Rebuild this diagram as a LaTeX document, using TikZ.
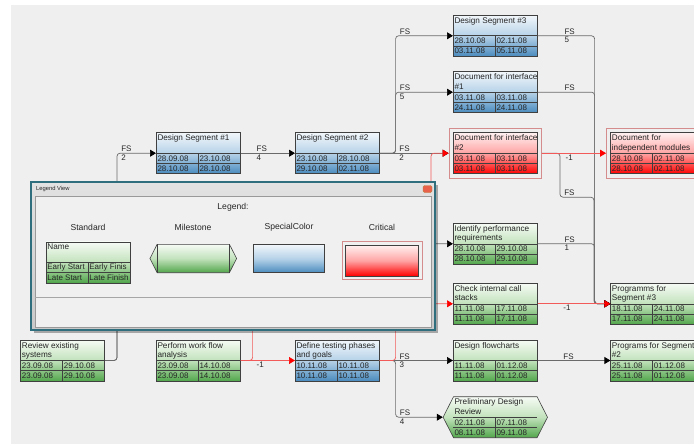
\documentclass[tikz,border=0pt]{standalone}
\usepackage{fontspec}
\setmainfont{Liberation Sans}
\usetikzlibrary{shapes,shapes.symbols,arrows.meta,fit}

\definecolor{bgcol}{HTML}{EFEFEF}
\definecolor{ink}{HTML}{262626}
\definecolor{edge}{HTML}{404040}
\definecolor{link}{HTML}{6A6A6A}
\definecolor{critlink}{HTML}{F25A5A}
\definecolor{gtop}{HTML}{F6FBF5}
\definecolor{gmid}{HTML}{C2E2BC}
\definecolor{gbot}{HTML}{52A64C}
\definecolor{btop}{HTML}{F2F7FB}
\definecolor{bmid}{HTML}{B6D2E8}
\definecolor{bbot}{HTML}{4A8BBE}
\definecolor{rtop}{HTML}{FFF0F0}
\definecolor{rmid}{HTML}{FFA4A4}
\definecolor{rbot}{HTML}{FF0000}
\definecolor{critedge}{HTML}{D48C8C}
\definecolor{winedge}{HTML}{2F6E7C}
\definecolor{wintop}{HTML}{E2E2E2}
\definecolor{winbot}{HTML}{C9C9C9}
\definecolor{panelcol}{HTML}{F0F0F0}

\tikzstyle{block} = [draw=edge, line width=0.6pt, rectangle, inner sep=0pt,
    minimum width=84pt, minimum height=41pt]
\tikzstyle{std} = [top color=gtop, bottom color=gbot, middle color=gmid]
\tikzstyle{special} = [top color=btop, bottom color=bbot, middle color=bmid]
\tikzstyle{crit} = [top color=rtop, bottom color=rbot, middle color=rmid]
\tikzstyle{mile} = [std, signal, signal to=east and west, signal pointer angle=126,
    minimum width=104.4pt]
\tikzstyle{critframe} = [draw=critedge, line width=0.7pt, inner sep=4pt]
\tikzstyle{gridline} = [draw=edge, line width=0.6pt]
\tikzstyle{boxtitle} = [anchor=north west, inner sep=1pt, align=left, text=ink,
    font=\fontsize{8.2}{9.3}\selectfont]
\tikzstyle{boxdate} = [anchor=west, inner sep=1pt, text=ink, font=\fontsize{8}{9}\selectfont]
\tikzstyle{conn} = [draw=link, line width=0.7pt, rounded corners=3pt,
    -{Triangle[length=6pt,width=7pt,color=black]}]
\tikzstyle{critconn} = [conn, draw=critlink, -{Triangle[length=6pt,width=7pt,color=red]}]
\tikzstyle{fslab} = [anchor=south west, inner sep=1pt, text=ink, font=\fontsize{8}{9}\selectfont]
\tikzstyle{numlab} = [anchor=north west, inner sep=1pt, text=ink, font=\fontsize{8}{9}\selectfont]
\tikzstyle{win} = [rectangle, draw=winedge, line width=1.2pt, top color=wintop, bottom color=winbot]
\tikzstyle{panel} = [rectangle, draw=black!40, line width=0.6pt, fill=panelcol]
\tikzstyle{legtext} = [inner sep=0pt, text=ink, font=\fontsize{8.6}{10}\selectfont]

\newcommand{\pertbox}[9]{%
  \node [block, #2, name=#1] at (#3,#4) {};
  \begin{scope}[shift={(#1.center)}]
    \draw [gridline] (-42,0) -- (42,0) (-42,10.25) -- (42,10.25) (0,0) -- (0,20.5);
    \node [boxtitle, name=#1-t] at (-42,-19.5) {#5};
    \node [boxdate, name=#1-es] at (-42,5.1) {#6};
    \node [boxdate, name=#1-ef] at (0,5.1) {#7};
    \node [boxdate, name=#1-ls] at (-42,15.4) {#8};
    \node [boxdate, name=#1-lf] at (0,15.4) {#9};
  \end{scope}}

\begin{document}
\begin{tikzpicture}[x=1pt, y=-1pt]
\useasboundingbox (0,0) rectangle (694,444);
\clip (0,0) rectangle (694,444);
\fill [white] (0,0) rectangle (694,444);
\fill [bgcol] (11,5) rectangle (694,444);

\pertbox{rev}{std}{62.7}{360.5}{Review existing\\systems}{23.09.08}{29.10.08}{23.09.08}{29.10.08}
\pertbox{perf}{std}{198.3}{360.5}{Perform work flow\\analysis}{23.09.08}{14.10.08}{23.09.08}{14.10.08}
\pertbox{deftest}{special}{337.3}{360.5}{Define testing phases\\and goals}{10.11.08}{10.11.08}{10.11.08}{10.11.08}
\pertbox{ds1}{special}{198.3}{153.2}{Design Segment \#1}{28.09.08}{23.10.08}{28.10.08}{28.10.08}
\pertbox{ds2}{special}{337.3}{153.2}{Design Segment \#2}{23.10.08}{28.10.08}{29.10.08}{02.11.08}
\pertbox{ds3}{special}{495.3}{35.8}{Design Segment \#3}{28.10.08}{02.11.08}{03.11.08}{05.11.08}
\pertbox{doc1}{special}{495.3}{92.2}{Document for interface\\\#1}{03.11.08}{03.11.08}{24.11.08}{24.11.08}
\pertbox{doc2}{crit}{495.3}{153.2}{Document for interface\\\#2}{03.11.08}{03.11.08}{03.11.08}{03.11.08}
\pertbox{idreq}{std}{495.3}{243.8}{Identify performance\\requirements}{28.10.08}{29.10.08}{28.10.08}{29.10.08}
\pertbox{check}{std}{495.3}{303.8}{Check internal call\\stacks}{11.11.08}{17.11.08}{11.11.08}{17.11.08}
\pertbox{dflow}{std}{495.3}{360.5}{Design flowcharts}{11.11.08}{01.12.08}{11.11.08}{01.12.08}
\pertbox{prelim}{mile}{495.3}{417.2}{Preliminary Design\\Review}{02.11.08}{07.11.08}{08.11.08}{09.11.08}
\pertbox{docind}{crit}{652.7}{153.2}{Document for\\independent modules}{28.10.08}{02.11.08}{28.10.08}{02.11.08}
\pertbox{prog3}{std}{652.7}{303.8}{Programms for\\Segment \#3}{18.11.08}{24.11.08}{17.11.08}{24.11.08}
\pertbox{prog2}{std}{652.7}{360.5}{Programs for Segment\\\#2}{25.11.08}{01.12.08}{25.11.08}{01.12.08}

\node [critframe, fit=(doc2)] (doc2f) {};
\node [critframe, fit=(docind)] (docindf) {};
\coordinate (jog) at (431,290);

\draw [conn] (rev.east) -- ++(12,0) |- (ds1.west) node[fslab, pos=0.5, xshift=3pt] {FS} node[numlab, pos=0.5, xshift=3pt] {2};
\draw [conn] (rev.east) -- ++(12,0) |- (idreq.west);
\draw [conn] (ds1.east) -- (ds2.west) node[fslab, pos=0.27] {FS} node[numlab, pos=0.27] {4};
\draw [conn] (ds2.east) -- ++(16,0) |- (ds3.west) node[fslab, pos=0.5, xshift=3pt] {FS};
\draw [conn] (ds2.east) -- ++(16,0) |- (doc1.west) node[fslab, pos=0.5, xshift=3pt] {FS} node[numlab, pos=0.5, xshift=3pt] {5};
\draw [conn] (ds2.east) -- (doc2f.west) node[fslab, pos=0.267] {FS} node[numlab, pos=0.267] {2};
\draw [conn] (deftest.east) -- (dflow.west) node[fslab, pos=0.253] {FS} node[numlab, pos=0.253] {3};
\draw [conn] (deftest.east) -- ++(16,0) |- (prelim.west) node[fslab, pos=0.5, xshift=3pt] {FS} node[numlab, pos=0.5, xshift=3pt] {4};
\draw [conn] (ds3.east) -- node[fslab, pos=0.45] {FS} node[numlab, pos=0.45] {5} ++(57,0) |- (prog3.west);
\draw [conn] (doc1.east) -- node[fslab, pos=0.45] {FS} ++(57,0) |- (prog3.west);
\draw [conn] (doc2f.east) -- ++(18,0) |- ++(34,44) node[fslab, pos=0.5, xshift=3pt] {FS} |- (prog3.west);
\draw [conn] (idreq.east) -- node[fslab, pos=0.45] {FS} node[numlab, pos=0.45] {1} ++(57,0) |- (prog3.west);
\draw [conn] (dflow.east) -- (prog2.west) node[fslab, pos=0.336] {FS};

\draw [critconn] (perf.east) -- (deftest.west) node[numlab, pos=0.27] {-1};
\draw [critconn] (perf.east) -- ++(12,0) |- (check.west);
\draw [critconn] (deftest.east) -- ++(16,0) |- (jog) |- (doc2f.west);
\draw [critconn] (doc2f.east) -- (docindf.west) node[numlab, pos=0.35] {-1};
\draw [critconn] (check.east) -- (prog3.west) node[numlab, pos=0.336] {-1};

\fill [black, opacity=0.3] (33.5,184.5) rectangle (438,333);
\node [win, name=legwin, minimum width=404pt, minimum height=148pt] at (233,256) {};
\node [anchor=west, inner sep=0pt, text=ink, font=\fontsize{5.8}{7}\selectfont, name=legbar] at (36,189.5) {Legend View};
\node [rectangle, rounded corners=1.5pt, minimum width=9pt, minimum height=7pt, fill=red!55!brown!80, draw=brown, line width=0.4pt, name=legclose] at (427.5,189) {};
\node [panel, name=legpanel, minimum width=396.5pt, minimum height=131pt] at (233.25,261.5) {};
\draw [black!35, line width=1.2pt] (35,297.5) -- (431.5,297.5);
\node [legtext, name=leghead] at (233,207.5) {Legend:};
\node [legtext, name=legcap1] at (88,227) {Standard};
\node [legtext, name=legcap2] at (193,227) {Milestone};
\node [legtext, name=legcap3] at (289,227) {SpecialColor};
\node [legtext, name=legcap4] at (382,227) {Critical};

\pertbox{legstd}{std}{88.2}{262.3}{Name}{Early Start}{Early Finis}{Late Start}{Late Finish}
\node [block, mile, minimum width=86.7pt, minimum height=28.4pt, name=legmile] at (193.3,258.5) {};
\draw [gridline] ([shift={(-35.7,-14.2)}]legmile.center) -- ++(0,28.4)
                 ([shift={(35.7,-14.2)}]legmile.center) -- ++(0,28.4);
\node [block, special, minimum width=71.4pt, minimum height=28.4pt, name=legspec] at (289,258.5) {};
\node [block, crit, minimum width=73pt, minimum height=30.7pt, name=legcrit] at (382.2,260.6) {};
\node [critframe, inner sep=3.5pt, fit=(legcrit)] (legcritf) {};

\end{tikzpicture}
\end{document}
